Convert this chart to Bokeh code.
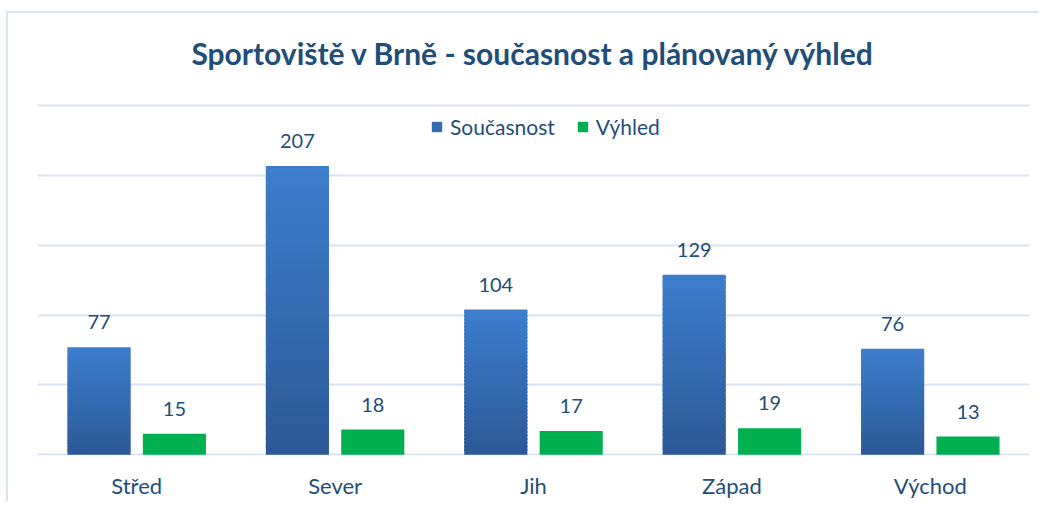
from bokeh.plotting import figure
from bokeh.models import ColumnDataSource, FactorRange, Legend, LegendItem, Range1d, FixedTicker
from bokeh.transform import dodge
from bokeh.embed import file_html
from bokeh.resources import INLINE
from bokeh.core.properties import value

categories = ["Střed", "Sever", "Jih", "Západ", "Východ"]
soucasnost = [77, 207, 104, 129, 76]
vyhled = [15, 18, 17, 19, 13]
y_ticks = [0, 50, 100, 150, 200, 250]
series_names = ["Současnost", "Výhled"]
title_text = "Sportoviště v Brně - současnost a plánovaný výhled"

FONT = "Lato"
TEXT = "#1f4e79"
GRID = "#d9e3f3"
GREEN = "#00b050"
BLUE_TOP = (0x3d, 0x7e, 0xcd)
BLUE_BOT = (0x2c, 0x58, 0x96)

p = figure(x_range=FactorRange(*categories), y_range=Range1d(-0.6, 272.5),
           width=1033, height=490, output_backend="svg", toolbar_location=None,
           min_border_left=29, min_border_right=12, min_border_top=61, min_border_bottom=48)
p.styles = {"border-left": f"2px solid {GRID}", "border-top": f"2px solid {GRID}",
            "transform": "translate(6px, 11px)"}
p.outline_line_color = None
p.background_fill_color = "white"
p.border_fill_color = "white"

p.yaxis.visible = False
p.xgrid.grid_line_color = None
p.ygrid.ticker = FixedTicker(ticks=y_ticks)
p.ygrid.grid_line_color = GRID
p.ygrid.grid_line_width = 2

xa = p.xaxis[0]
xa.axis_line_color = None
xa.major_tick_line_color = None
xa.minor_tick_line_color = None
xa.major_tick_out = 0
xa.major_tick_in = 0
xa.major_label_text_font = FONT
xa.major_label_text_font_size = "22px"
xa.major_label_text_color = TEXT
xa.major_label_standoff = 16

# blue bars with vertical gradient (sliced from each bar's value)
N = 40
blue_renderers = []
for k in range(N):
    t = (k + 0.5) / N
    col = "#%02x%02x%02x" % tuple(int(round(b + (a - b) * t)) for a, b in zip(BLUE_TOP, BLUE_BOT))
    src = ColumnDataSource(dict(cat=categories,
                                bottom=[v * k / N for v in soucasnost],
                                top=[min(v, v * (k + 1.6) / N) for v in soucasnost]))
    r = p.vbar(x=dodge("cat", -0.19, range=p.x_range), bottom="bottom", top="top", width=0.318,
               source=src, fill_color=col, line_color=None)
    blue_renderers.append(r)

gsrc = ColumnDataSource(dict(cat=categories, top=vyhled))
green_r = p.vbar(x=dodge("cat", 0.19, range=p.x_range), top="top", bottom=0, width=0.318,
                 source=gsrc, fill_color=GREEN, line_color=None)

lsrc1 = ColumnDataSource(dict(cat=categories, y=soucasnost, t=[str(v) for v in soucasnost]))
lsrc2 = ColumnDataSource(dict(cat=categories, y=vyhled, t=[str(v) for v in vyhled]))
for src, off in ((lsrc1, -0.19), (lsrc2, 0.19)):
    p.text(x=dodge("cat", off, range=p.x_range), y="y", text="t", source=src,
           text_align="center", text_baseline="middle", y_offset=-25,
           text_font=value(FONT), text_font_size="20px", text_color=TEXT)

p.title.text = title_text
p.title.align = "center"
p.title.text_font = FONT
p.title.text_font_style = "bold"
p.title.text_font_size = "30px"
p.title.text_color = TEXT
p.title.standoff = 7

legend = Legend(items=[LegendItem(label=series_names[0], renderers=[blue_renderers[N // 2]]),
                       LegendItem(label=series_names[1], renderers=[green_r])],
                orientation="horizontal", location=(393, 316),
                border_line_color=None, background_fill_alpha=0, padding=0, margin=0,
                spacing=21, label_standoff=7, glyph_width=13, glyph_height=13,
                label_text_font=FONT, label_text_font_size="21px", label_text_color=TEXT)
p.add_layout(legend)

open("out.html", "w").write(file_html(p, INLINE))
